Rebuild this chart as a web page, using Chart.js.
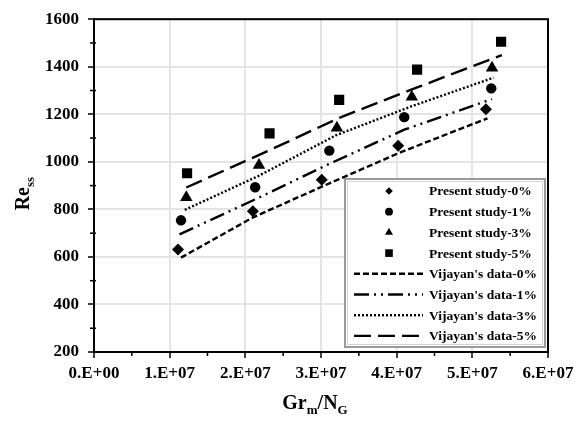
<!DOCTYPE html>
<html><head><meta charset="utf-8">
<script src="https://cdn.jsdelivr.net/npm/chart.js@4/dist/chart.umd.min.js"></script>
<style>html,body{margin:0;padding:0;background:#fff;}#wrap{width:579px;height:421px;position:relative;}</style>
</head><body><div id="wrap"><canvas id="c" width="579" height="421"></canvas></div>
<script>
// ---- data ----
const xTickLabels = ['0.E+00','1.E+07','2.E+07','3.E+07','4.E+07','5.E+07','6.E+07'];
const yTickValues = [200,400,600,800,1000,1200,1400,1600];

const present0X = [1.11e7, 2.10e7, 3.01e7, 4.02e7, 5.18e7];
const present0Y = [631, 792, 925, 1068, 1221];
const present1X = [1.15e7, 2.13e7, 3.11e7, 4.10e7, 5.25e7];
const present1Y = [754, 893, 1047, 1188, 1309];
const present3X = [1.22e7, 2.18e7, 3.21e7, 4.20e7, 5.26e7];
const present3Y = [850, 986, 1143, 1273, 1395];
const present5X = [1.23e7, 2.32e7, 3.24e7, 4.27e7, 5.38e7];
const present5Y = [952, 1120, 1261, 1388, 1505];

const vijayan0X = [1.15e7, 2.10e7, 3.05e7, 4.05e7, 5.20e7];
const vijayan0Y = [597, 766, 901, 1040, 1183];
const vijayan1X = [1.13e7, 2.13e7, 3.10e7, 4.10e7, 5.26e7];
const vijayan1Y = [695, 842, 990, 1135, 1264];
const vijayan3X = [1.20e7, 2.17e7, 3.20e7, 4.20e7, 5.28e7];
const vijayan3Y = [798, 940, 1112, 1234, 1354];
const vijayan5X = [1.22e7, 2.30e7, 3.25e7, 4.27e7, 5.39e7];
const vijayan5Y = [892, 1046, 1186, 1313, 1449];

const seriesNames = ['Present study-0%','Present study-1%','Present study-3%','Present study-5%',
  "Vijayan's data-0%","Vijayan's data-1%","Vijayan's data-3%","Vijayan's data-5%"];

const pts = (xs, ys) => xs.map((x, i) => ({x, y: ys[i]}));
const FONT = "'Liberation Serif','Times New Roman',serif";

const markerStyles = [
  {style:'rectRot', r:6, lr:3.8},
  {style:'circle', r:5.2, lr:3.9},
  {style:'triangle', r:7.2, lr:4.6},
  {style:'rect', r:7.2, lr:5.4}
];
const lineDashes = [[6,3],[15,5,2,5,2,5],[2,2],[17,7]];

const datasets = [];
[[present0X,present0Y],[present1X,present1Y],[present3X,present3Y],[present5X,present5Y]].forEach((d,i)=>{
  datasets.push({label:seriesNames[i], data:pts(d[0],d[1]), showLine:false,
    pointStyle:markerStyles[i].style, pointRadius:markerStyles[i].r, pointHoverRadius:markerStyles[i].r,
    backgroundColor:'#000', borderColor:'#000', borderWidth:0, order:0});
});
[[vijayan0X,vijayan0Y],[vijayan1X,vijayan1Y],[vijayan3X,vijayan3Y],[vijayan5X,vijayan5Y]].forEach((d,i)=>{
  datasets.push({label:seriesNames[4+i], data:pts(d[0],d[1]), showLine:true, pointRadius:0,
    borderColor:'#000', backgroundColor:'#000', borderWidth:2.4, borderDash:lineDashes[i], tension:0, order:1});
});

const decor = {
  id:'decor',
  afterDraw(chart){
    const {ctx, chartArea:a, scales:{x, y}} = chart;
    ctx.save();
    // frame
    ctx.strokeStyle='#000'; ctx.lineWidth=2; ctx.setLineDash([]);
    ctx.strokeRect(a.left, a.top, a.right-a.left, a.bottom-a.top);
    // minor ticks
    ctx.lineWidth=1.5;
    for(let v=0.5e7; v<6e7; v+=1e7){
      const px=x.getPixelForValue(v);
      ctx.beginPath(); ctx.moveTo(px,a.bottom); ctx.lineTo(px,a.bottom+4); ctx.stroke();
    }
    for(let v=300; v<1600; v+=200){
      const py=y.getPixelForValue(v);
      ctx.beginPath(); ctx.moveTo(a.left-4,py); ctx.lineTo(a.left+2,py); ctx.stroke();
    }
    // legend
    const bw=200, bh=168;
    const bx=a.right-3-bw, by=a.bottom-5-bh;
    ctx.fillStyle='#fff'; ctx.fillRect(bx,by,bw,bh);
    ctx.strokeStyle='#9a9a9a'; ctx.lineWidth=2; ctx.strokeRect(bx,by,bw,bh);
    ctx.strokeStyle='#d4d4d4'; ctx.lineWidth=1; ctx.strokeRect(bx+2.5,by+2.5,bw-5,bh-5);
    const rowH=20.7, y0=by+12;
    ctx.font='bold 13.5px '+FONT; ctx.textBaseline='middle'; ctx.textAlign='left';
    seriesNames.forEach((name,i)=>{
      const cy=y0+i*rowH;
      ctx.fillStyle='#000'; ctx.strokeStyle='#000';
      if(i<4){
        Chart.helpers.drawPoint(ctx,{pointStyle:markerStyles[i].style, radius:markerStyles[i].lr, rotation:0, borderWidth:0}, bx+44, cy);
      } else {
        ctx.lineWidth=2.4; ctx.setLineDash(lineDashes[i-4]);
        ctx.beginPath(); ctx.moveTo(bx+9,cy); ctx.lineTo(bx+78,cy); ctx.stroke();
        ctx.setLineDash([]);
      }
      ctx.fillText(name, bx+84, cy+1);
    });
    // axis titles
    ctx.fillStyle='#000';
    const big='bold 20px '+FONT, small='bold 13px '+FONT;
    // x title: Gr_m/N_G
    const parts=[['Gr',big,0],['m',small,5],['/N',big,0],['G',small,5]];
    let tw=0; parts.forEach(p=>{ctx.font=p[1]; tw+=ctx.measureText(p[0]).width;});
    let cx=(a.left+a.right)/2 - tw/2 - 6, base=409;
    ctx.textBaseline='alphabetic';
    parts.forEach(p=>{ctx.font=p[1]; ctx.fillText(p[0],cx,base+p[2]); cx+=ctx.measureText(p[0]).width;});
    // y title: Re_ss
    ctx.translate(29,(a.top+a.bottom)/2+8);
    ctx.rotate(-Math.PI/2);
    const yparts=[['Re',big,0],['ss',small,5]];
    let tw2=0; yparts.forEach(p=>{ctx.font=p[1]; tw2+=ctx.measureText(p[0]).width;});
    let cx2=-tw2/2;
    yparts.forEach(p=>{ctx.font=p[1]; ctx.fillText(p[0],cx2,p[2]); cx2+=ctx.measureText(p[0]).width;});
    ctx.restore();
  }
};

new Chart(document.getElementById('c'), {
  type:'scatter',
  data:{datasets},
  options:{
    responsive:false, animation:false, devicePixelRatio:1,
    layout:{padding:{top:10,right:31,left:0,bottom:0}},
    plugins:{legend:{display:false}, tooltip:{enabled:false}},
    scales:{
      x:{type:'linear', min:0, max:6e7,
        afterFit(s){s.height=69;},
        afterBuildTicks(s){s.ticks=xTickLabels.map((_,i)=>({value:i*1e7}));},
        ticks:{color:'#000', padding:5, maxRotation:0, font:{family:FONT, size:17, weight:'bold'},
          callback:(v,i)=>xTickLabels[i]},
        grid:{color:'#e4e4e4', lineWidth:2, tickColor:'#000', tickWidth:1.5, tickLength:6},
        border:{color:'#000', width:2}
      },
      y:{type:'linear', min:200, max:1600,
        afterFit(s){s.width=94;},
        afterBuildTicks(s){s.ticks=yTickValues.map(v=>({value:v}));},
        ticks:{color:'#000', padding:9, font:{family:FONT, size:17, weight:'bold'},
          callback:(v)=>String(v)},
        grid:{color:'#e4e4e4', lineWidth:2, tickColor:'#000', tickWidth:1.5, tickLength:6},
        border:{color:'#000', width:2}
      }
    }
  },
  plugins:[decor]
});
</script></body></html>
